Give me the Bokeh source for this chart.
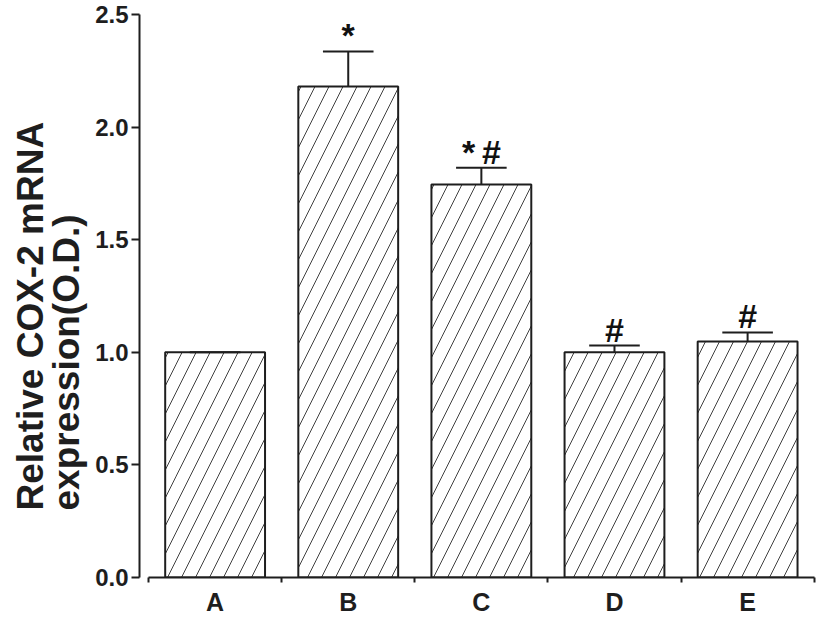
from bokeh.plotting import figure
from bokeh.models import (ColumnDataSource, FixedTicker, PrintfTickFormatter, Range1d, Title)
from bokeh.core.properties import value
from bokeh.embed import file_html
from bokeh.resources import INLINE

categories = ["A", "B", "C", "D", "E"]
means = [1.0, 2.18, 1.745, 1.0, 1.048]
errors = [0.0, 0.156, 0.075, 0.03, 0.04]
marks = ["", "*", "*\u2009#", "#", "#"]
y_ticks = [0.0, 0.5, 1.0, 1.5, 2.0, 2.5]
y_title = "Relative COX-2 mRNA\nexpression(O.D.)"

xs = [i + 0.5 for i in range(len(categories))]
tops = [m + e for m, e in zip(means, errors)]

src = ColumnDataSource(dict(x=xs, top=means, err_top=tops, mark=marks,
                            cap_l=[x - 0.19 for x in xs], cap_r=[x + 0.19 for x in xs]))

FONT = "Liberation Sans"
INK = "#1e1e1e"

p = figure(width=827, height=618, output_backend="svg", toolbar_location=None,
           x_range=Range1d(-0.068, 5.01), y_range=Range1d(0, 2.5),
           min_border_top=14, min_border_right=12, min_border_bottom=41, min_border_left=139)
p.outline_line_color = None
p.grid.visible = False
p.background_fill_color = "white"
p.border_fill_color = "white"

p.vbar(x="x", top="top", bottom=0, width=0.75, source=src,
       fill_color="white", line_color=INK, line_width=2,
       hatch_pattern="/", hatch_color="#404040", hatch_scale=28, hatch_weight=1)

p.segment(x0="x", y0="top", x1="x", y1="err_top", source=src, line_color=INK, line_width=2)
p.segment(x0="cap_l", y0="err_top", x1="cap_r", y1="err_top", source=src, line_color=INK, line_width=2)

p.text(x="x", y="err_top", text="mark", source=src, text_align="center", text_baseline="bottom",
       y_offset=3, text_font=value(FONT), text_font_style="bold", text_font_size="34px",
       text_color="#111111")

# x axis
xa = p.xaxis[0]
xa.ticker = FixedTicker(ticks=xs, minor_ticks=[0, 1, 2, 3, 4, 5])
xa.major_label_overrides = {x: c for x, c in zip(xs, categories)}
xa.major_tick_out = 0
xa.major_tick_in = 0
xa.minor_tick_out = 5
xa.minor_tick_in = 0
xa.minor_tick_line_width = 2
xa.minor_tick_line_color = INK
xa.axis_line_width = 2
xa.axis_line_color = INK
xa.bounds = (0, 5)
xa.major_label_text_font = FONT
xa.major_label_text_font_style = "bold"
xa.major_label_text_font_size = "25px"
xa.major_label_text_color = INK
xa.major_label_standoff = 5

# y axis
ya = p.yaxis[0]
ya.ticker = FixedTicker(ticks=y_ticks, minor_ticks=[])
ya.formatter = PrintfTickFormatter(format="%.1f")
ya.major_tick_out = 8
ya.major_tick_in = 0
ya.major_tick_line_width = 2
ya.major_tick_line_color = INK
ya.axis_line_width = 2
ya.axis_line_color = INK
ya.major_label_text_font = FONT
ya.major_label_text_font_style = "bold"
ya.major_label_text_font_size = "24px"
ya.major_label_text_color = INK
ya.major_label_standoff = 3

t = Title(text=y_title, align="left", offset=67, text_font=FONT, text_font_style="bold",
          text_font_size="37px", text_line_height=0.9, text_color=INK, standoff=10)
p.add_layout(t, "left")

open("out.html", "w").write(file_html(p, INLINE))
